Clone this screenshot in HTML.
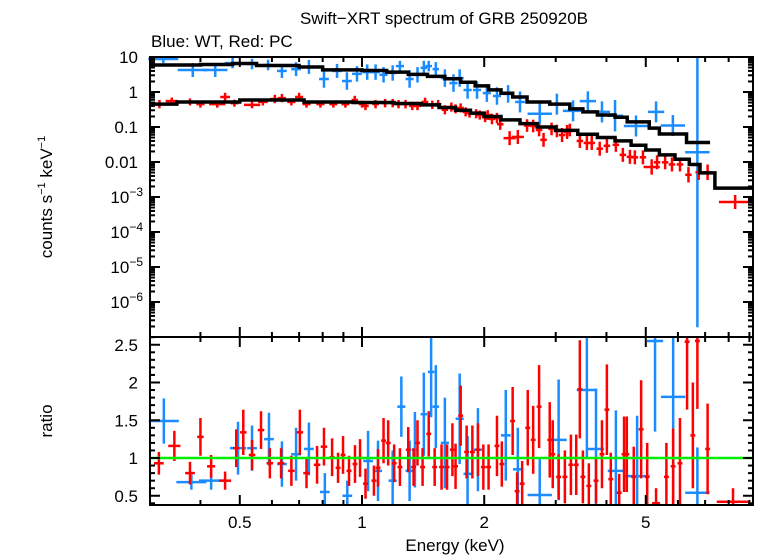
<!DOCTYPE html>
<html><head><meta charset="utf-8"><style>
html,body{margin:0;padding:0;background:#fff;}
svg{display:block;font-family:"Liberation Sans",sans-serif;}
</style></head><body>
<svg id="chart" width="758" height="556" viewBox="0 0 758 556">
<text x="444" y="24" font-size="17" text-anchor="middle">Swift−XRT spectrum of GRB 250920B</text>
<text x="151" y="47" font-size="17">Blue: WT, Red: PC</text>
<text transform="translate(52,197) rotate(-90)" font-size="17" text-anchor="middle">counts s<tspan dy="-7" font-size="11">−1</tspan><tspan dy="7"> keV</tspan><tspan dy="-7" font-size="11">−1</tspan></text>
<text transform="translate(52,421) rotate(-90)" font-size="17" text-anchor="middle">ratio</text>
<text x="455" y="551" font-size="17" text-anchor="middle">Energy (keV)</text>
<g id="g"></g>
</svg>
<script>
// ---- data ----
const blueE=[0.324,0.383,0.435,0.48,0.536,0.587,0.635,0.688,0.74,0.806,0.868,0.918,0.972,1.03,1.08,1.13,1.19,1.24,1.31,1.37,1.42,1.46,1.52,1.60,1.68,1.74,1.82,1.92,2.03,2.15,2.29,2.45,2.74,3.02,3.31,3.60,3.9,4.2,4.73,5.3,5.83,6.7];
const blueBin=[0.037,0.037,0.03,0.02,0.012,0.012,0.012,0.012,0.012,0.012,0.012,0.012,0.012,0.012,0.01,0.01,0.01,0.01,0.01,0.01,0.008,0.008,0.008,0.01,0.01,0.01,0.01,0.01,0.01,0.01,0.012,0.012,0.03,0.02,0.025,0.02,0.02,0.02,0.03,0.02,0.03,0.03];
const blueV=[8.8,4.25,4.25,6.7,6.3,5.9,4.0,4.5,5.2,2.35,4.0,2.06,3.3,3.7,3.7,3.1,3.5,5.5,2.35,3.1,4.9,5.5,4.5,2.5,1.8,2.5,1.14,1.14,0.93,0.77,0.88,0.52,0.24,0.45,0.29,0.55,0.27,0.21,0.107,0.27,0.11,0.019];
const blueErr=[0.12,0.2,0.2,0.15,0.15,0.15,0.2,0.2,0.2,0.25,0.2,0.25,0.22,0.22,0.22,0.22,0.22,0.15,0.25,0.22,0.2,0.15,0.2,0.25,0.25,0.25,0.25,0.25,0.25,0.25,0.25,0.3,0.3,0.3,0.3,0.28,0.3,0.45,0.3,0.3,0.3,5];
const redE=[0.317,0.34,0.377,0.40,0.44,0.46,0.485,0.536,0.57,0.61,0.635,0.67,0.70,0.73,0.79,0.85,0.91,0.96,1.0,1.02,1.08,1.14,1.19,1.23,1.28,1.33,1.37,1.43,1.49,1.54,1.60,1.66,1.70,1.75,1.80,1.84,1.91,1.95,2.01,2.04,2.09,2.15,2.19,2.31,2.42,2.55,2.64,2.73,2.80,2.93,3.02,3.11,3.20,3.25,3.44,3.58,3.68,3.85,4.01,4.22,4.39,4.57,4.70,4.92,5.17,5.33,5.58,5.8,6.07,6.37,6.75,7.1,8.3];
const redV=[0.45,0.55,0.52,0.45,0.45,0.72,0.48,0.43,0.52,0.63,0.67,0.52,0.72,0.45,0.45,0.45,0.45,0.59,0.45,0.40,0.45,0.48,0.48,0.45,0.45,0.40,0.40,0.52,0.43,0.45,0.31,0.37,0.33,0.35,0.27,0.25,0.24,0.22,0.19,0.22,0.17,0.18,0.12,0.048,0.052,0.11,0.107,0.082,0.043,0.088,0.077,0.059,0.072,0.082,0.040,0.035,0.035,0.024,0.029,0.031,0.016,0.014,0.0136,0.0136,0.0072,0.0098,0.0098,0.0085,0.0085,0.0043,0.0051,0.0051,0.00072];
const redBin=[0.015,0.015,0.015,0.01,0.02,0.012,0.01,0.02,0.012,0.012,0.01,0.01,0.01,0.01,0.01,0.01,0.01,0.008,0.008,0.008,0.008,0.008,0.008,0.008,0.008,0.008,0.008,0.008,0.008,0.008,0.008,0.008,0.008,0.008,0.008,0.008,0.008,0.008,0.008,0.008,0.008,0.008,0.008,0.015,0.015,0.008,0.008,0.008,0.008,0.008,0.008,0.008,0.008,0.008,0.008,0.008,0.008,0.008,0.008,0.008,0.008,0.008,0.008,0.008,0.02,0.008,0.008,0.008,0.008,0.008,0.008,0.008,0.04];
const redErr=[0.12,0.1,0.1,0.1,0.1,0.12,0.1,0.1,0.1,0.12,0.12,0.1,0.12,0.1,0.1,0.1,0.1,0.12,0.1,0.12,0.12,0.12,0.12,0.12,0.12,0.12,0.12,0.12,0.12,0.12,0.13,0.13,0.13,0.13,0.13,0.13,0.13,0.13,0.14,0.14,0.15,0.15,0.16,0.2,0.2,0.18,0.18,0.18,0.2,0.18,0.18,0.2,0.2,0.18,0.2,0.2,0.2,0.2,0.2,0.2,0.2,0.2,0.2,0.2,0.22,0.2,0.2,0.2,0.2,0.22,0.22,0.22,0.2];
const modelBlueE=[0.30,0.40,0.48,0.55,0.70,0.80,1.0,1.15,1.3,1.45,1.6,1.75,1.9,2.05,2.2,2.35,2.55,2.9,3.25,3.5,3.8,4.2,4.5,5.1,5.4,6.3,7.2];
const modelBlueV=[5.9,6.1,6.5,5.7,5.2,4.3,4.1,3.7,3.2,2.8,2.4,1.9,1.5,1.15,0.92,0.72,0.52,0.45,0.33,0.27,0.22,0.19,0.14,0.093,0.063,0.036];
const modelRedE=[0.30,0.35,0.50,0.62,0.72,0.95,1.2,1.4,1.55,1.7,1.85,2.0,2.2,2.45,2.7,3.0,3.4,3.8,4.2,4.6,5.0,5.4,5.9,6.4,6.8,7.4,9.3];
const modelRedV=[0.45,0.52,0.59,0.59,0.52,0.50,0.47,0.43,0.36,0.30,0.25,0.20,0.16,0.125,0.10,0.08,0.062,0.05,0.04,0.03,0.022,0.016,0.012,0.0085,0.0049,0.0018];
const rBlueE=[0.325,0.38,0.425,0.495,0.536,0.59,0.635,0.688,0.74,0.81,0.92,1.035,1.095,1.19,1.25,1.31,1.35,1.42,1.48,1.52,1.60,1.74,1.82,1.93,2.26,2.42,2.74,3.05,3.58,3.77,4.22,4.76,5.27,5.84,6.7];
const rBlueV=[1.49,0.68,0.70,1.13,1.13,1.25,0.92,1.05,1.12,0.55,0.50,0.96,0.83,0.70,1.68,0.83,1.11,1.58,2.14,1.68,1.20,1.52,0.79,1.11,1.30,0.85,0.51,1.24,1.90,1.12,0.83,0.76,2.55,1.81,0.54];
const rBlueErr=[0.3,0.1,0.12,0.35,0.3,0.35,0.3,0.35,0.35,0.25,0.2,0.4,0.4,0.4,0.4,0.4,0.5,0.55,0.6,0.55,0.6,0.6,0.5,0.55,0.6,0.55,0.5,0.8,0.9,0.8,0.8,0.8,1.2,1.4,0.6];
const rBlueBin=[0.037,0.037,0.03,0.02,0.012,0.012,0.012,0.012,0.012,0.012,0.012,0.012,0.01,0.01,0.01,0.01,0.008,0.008,0.008,0.008,0.01,0.01,0.01,0.01,0.012,0.012,0.03,0.02,0.025,0.02,0.02,0.03,0.02,0.03,0.03];
const rRedE=[0.316,0.345,0.377,0.40,0.425,0.46,0.49,0.51,0.536,0.564,0.593,0.632,0.67,0.703,0.73,0.775,0.806,0.844,0.873,0.898,0.929,0.961,0.989,1.02,1.07,1.095,1.13,1.16,1.20,1.24,1.30,1.34,1.37,1.41,1.46,1.51,1.57,1.62,1.67,1.70,1.75,1.81,1.87,1.93,1.99,2.05,2.15,2.21,2.35,2.41,2.48,2.56,2.64,2.73,2.90,2.95,3.05,3.16,3.27,3.37,3.44,3.50,3.62,3.77,3.90,4.01,4.10,4.30,4.42,4.49,4.67,4.87,5.04,5.3,5.62,5.84,6.07,6.32,6.53,6.7,7.1,8.2];
const rRedV=[0.93,1.16,0.80,1.28,0.89,0.70,1.13,1.34,1.04,1.37,0.93,0.93,0.83,1.34,0.80,0.91,1.15,1.01,0.87,1.04,0.83,0.92,1.0,0.66,0.70,0.87,1.23,1.20,0.93,0.88,1.11,0.88,1.20,0.88,1.32,0.88,0.88,0.88,1.11,0.89,1.56,1.08,1.08,1.11,0.88,0.88,1.16,0.92,1.49,0.56,0.66,1.40,1.24,1.68,1.24,1.05,0.75,0.75,0.91,0.91,1.91,0.75,0.63,0.70,1.05,1.64,0.72,0.54,1.05,1.05,0.75,1.38,0.75,0.40,0.75,0.89,0.93,2.54,1.30,2.55,1.12,0.42];
const rRedErr=[0.15,0.2,0.15,0.25,0.15,0.12,0.25,0.3,0.2,0.25,0.2,0.2,0.2,0.3,0.2,0.25,0.25,0.25,0.2,0.25,0.2,0.25,0.25,0.2,0.2,0.25,0.3,0.3,0.25,0.25,0.3,0.25,0.3,0.25,0.3,0.25,0.3,0.3,0.35,0.3,0.4,0.35,0.35,0.35,0.3,0.3,0.4,0.3,0.45,0.25,0.3,0.5,0.45,0.55,0.5,0.45,0.3,0.35,0.4,0.4,0.65,0.35,0.3,0.3,0.45,0.6,0.35,0.25,0.5,0.5,0.4,0.65,0.45,0.2,0.45,0.5,0.6,0.9,0.7,0.9,0.6,0.18];
const rRedBin=[0.012,0.015,0.012,0.008,0.01,0.015,0.008,0.008,0.008,0.008,0.008,0.008,0.008,0.008,0.008,0.008,0.008,0.006,0.006,0.006,0.006,0.006,0.006,0.006,0.006,0.006,0.006,0.006,0.006,0.006,0.006,0.006,0.006,0.006,0.006,0.006,0.006,0.006,0.006,0.006,0.006,0.006,0.006,0.006,0.006,0.006,0.006,0.006,0.006,0.006,0.006,0.006,0.006,0.006,0.006,0.006,0.006,0.006,0.006,0.006,0.006,0.006,0.006,0.006,0.006,0.006,0.006,0.006,0.006,0.006,0.006,0.006,0.006,0.01,0.006,0.006,0.006,0.006,0.006,0.006,0.006,0.04];
const xMajor=[0.5,1,2,5];
const xMajorLabels=["0.5","1","2","5"];
const xMinor=[0.3,0.4,0.6,0.7,0.8,0.9,3,4,6,7,8,9];
const yTopDecades=[1,0,-1,-2,-3,-4,-5,-6];
const yTopLabels=["10","1","0.1","0.01","10|−3","10|−4","10|−5","10|−6"];
const yRatioTicks=[0.5,1,1.5,2,2.5];
const yRatioLabels=["0.5","1","1.5","2","2.5"];
// ---- layout ----
const L=150,R=753,T1=57,B1=337,T2=337,B2=505;
const X=e=>362+406*Math.log10(e);
const YT=v=>57+35*(1-Math.log10(v));
const YR=r=>458-75.5*(r-1);
const BLUE="#1a8cff",RED="#ff0000";
const g=document.getElementById('g');
const NS="http://www.w3.org/2000/svg";
function el(tag,attrs){const e=document.createElementNS(NS,tag);for(const k in attrs)e.setAttribute(k,attrs[k]);g.appendChild(e);return e;}
function line(x1,y1,x2,y2,c,w){return el('line',{x1,y1,x2,y2,stroke:c,'stroke-width':w});}
function clampT(y){return Math.max(T1,Math.min(B1,y));}
function clampR(y){return Math.max(T2,Math.min(B2,y));}
// top panel data (errors given in dex)
function drawCounts(E,V,Er,Bn,c,name){
 for(let i=0;i<E.length;i++){
  const x=X(E[i]),y=YT(V[i]);
  const x1=X(E[i]/Math.pow(10,Bn[i])),x2=Math.min(R,X(E[i]*Math.pow(10,Bn[i])));
  const hi=V[i]*Math.pow(10,Er[i]),lo=V[i]/Math.pow(10,Er[i]);
  const gg=el('g',{});
  
  
  gg.appendChild(line(x1,y,x2,y,c,2.5));
  gg.appendChild(line(x,clampT(YT(hi)),x,clampT(YT(lo)),c,2.5));
 }
}
function drawRatio(E,V,Er,Bn,c,name){
 for(let i=0;i<E.length;i++){
  const x=X(E[i]),y=YR(V[i]);
  const x1=X(E[i]/Math.pow(10,Bn[i])),x2=Math.min(R,X(E[i]*Math.pow(10,Bn[i])));
  const gg=el('g',{});
  
  
  if(y>=T2&&y<=B2){gg.appendChild(line(x1,y,x2,y,c,2.5));}
  gg.appendChild(line(x,clampR(YR(V[i]+Er[i])),x,clampR(YR(V[i]-Er[i])),c,2.5));
 }
}
function drawModel(E,V,name){
 let d="";
 for(let i=0;i<V.length;i++){
  const y=YT(V[i]);
  d+=(i===0?"M":"L")+X(E[i])+","+y+" L"+Math.min(R,X(E[i+1]))+","+y+" ";
 }
 const p=el('path',{d,fill:'none',stroke:'#000','stroke-width':3.5});
 
 
}
drawCounts(blueE,blueV,blueErr,blueBin,BLUE,'wt');
drawCounts(redE,redV,redErr,redBin,RED,'pc');
drawModel(modelBlueE,modelBlueV,'wt-model-line');
drawModel(modelRedE,modelRedV,'pc-model-line');
drawRatio(rBlueE,rBlueV,rBlueErr,rBlueBin,BLUE,'wt');
drawRatio(rRedE,rRedV,rRedErr,rRedBin,RED,'pc');
const gl=line(L,YR(1),R,YR(1),'#00ee00',2.5);


// axes frames
const f1=el('rect',{x:L,y:T1,width:R-L,height:B1-T1,fill:'none',stroke:'#000','stroke-width':2});


const f2=el('rect',{x:L,y:T2,width:R-L,height:B2-T2,fill:'none',stroke:'#000','stroke-width':2});


// x ticks
[[T1,B1],[T2,B2]].forEach(([t,b])=>{
 xMajor.forEach(e=>{const x=X(e);line(x,t,x,t+10,'#000',2);line(x,b,x,b-10,'#000',2);});
 xMinor.forEach(e=>{const x=X(e);if(x>L&&x<R){line(x,t,x,t+5,'#000',2);line(x,b,x,b-5,'#000',2);}});
});
xMajor.forEach((e,i)=>{
 const t=el('text',{x:X(e),y:528,'font-size':17,'text-anchor':'middle'});t.textContent=xMajorLabels[i];
 
 
});
// top y ticks
yTopDecades.forEach((d,i)=>{
 const y=YT(Math.pow(10,d));
 line(L,y,L+10,y,'#000',2);line(R,y,R-10,y,'#000',2);
 for(let m=2;m<=9;m++){const ym=YT(m*Math.pow(10,d));if(ym>T1&&ym<B1){line(L,ym,L+5,ym,'#000',2);line(R,ym,R-5,ym,'#000',2);}}
 const parts=yTopLabels[i].split('|');
 const t=el('text',{x:138,y:y+6,'font-size':17,'text-anchor':'end'});
 
 
 if(parts.length===1)t.textContent=parts[0];
 else{t.setAttribute('x',143);t.innerHTML=parts[0]+'<tspan dy="-7" font-size="12">'+parts[1]+'</tspan>';}
});
for(let m=2;m<=9;m++){const ym=YT(m*1e-7);line(L,ym,L+5,ym,'#000',2);line(R,ym,R-5,ym,'#000',2);}
// ratio y ticks
for(let k=4;k<=26;k++){const r=k/10,y=YR(r);if(y<T2||y>B2)continue;const len=(k%5===0)?10:5;line(L,y,L+len,y,'#000',2);line(R,y,R-len,y,'#000',2);}
yRatioTicks.forEach((r,i)=>{
 const t=el('text',{x:138,y:YR(r)+6,'font-size':17,'text-anchor':'end'});t.textContent=yRatioLabels[i];
 
 
});
</script>
</body></html>
